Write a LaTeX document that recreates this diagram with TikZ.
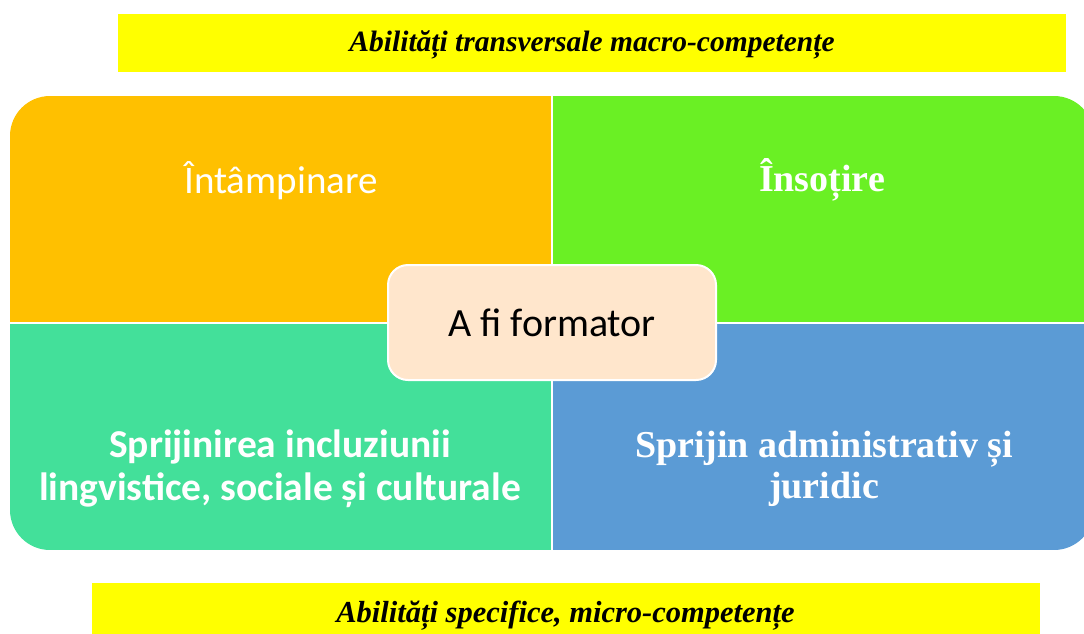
\documentclass[tikz,border=0pt]{standalone}
\usepackage{fontspec}
\setmainfont{Liberation Serif}
\newfontfamily\calibri{Carlito}
\definecolor{bannerfill}{RGB}{255,255,0}
\definecolor{welcomefill}{RGB}{255,192,0}
\definecolor{guidefill}{RGB}{106,240,36}
\definecolor{inclufill}{RGB}{67,224,154}
\definecolor{adminfill}{RGB}{91,155,213}
\definecolor{corefill}{RGB}{255,230,204}

\begin{document}
\begin{tikzpicture}[x=1pt,y=-1pt,
  banner/.style={fill=bannerfill, minimum width=948pt, minimum height=58pt,
    inner sep=0pt, text depth=4pt, font=\fontsize{#1}{34}\selectfont\bfseries\itshape},
  quadsans/.style 2 args={text=white, align=center, font=\calibri\fontsize{#1}{#2}\selectfont},
  quadbold/.style 2 args={text=white, align=center, font=\calibri\fontsize{#1}{#2}\selectfont\bfseries},
  quadserif/.style 2 args={text=white, align=center, font=\fontsize{#1}{#2}\selectfont\bfseries},
  corebox/.style={draw=white, line width=2pt, fill=corefill, rounded corners=20pt,
    minimum width=328pt, minimum height=115pt, font=\calibri\fontsize{40}{46}\selectfont}]
\useasboundingbox (0,0) rectangle (1084,633);
\clip (0,0) rectangle (1084,633);

\node[banner=29.5, text height=20pt] (macro) at (592,43)
  {Abilități transversale macro-competențe};
\node[banner=30.5, text height=24pt] (micro) at (565.5,612)
  {Abilități specifice, micro-competențe};

\begin{scope}
\clip[rounded corners=40pt] (10,96) rectangle (1094,550);
\fill[welcomefill] (10,96) rectangle (552,323);
\fill[guidefill] (552,96) rectangle (1094,323);
\fill[inclufill] (10,323) rectangle (552,550);
\fill[adminfill] (552,323) rectangle (1094,550);
\end{scope}
\draw[white, line width=2pt] (552,96) -- (552,550);
\draw[white, line width=2pt] (10,323) -- (1094,323);

\node[quadsans={39}{46}, anchor=base] (welcome) at (281,193) {Întâmpinare};
\node[quadserif={38}{44}, anchor=base] (guide) at (822,191) {Însoțire};
\node[quadbold={39.5}{43}] (inclu) at (280,469)
  {Sprijinirea incluziunii\\lingvistice, sociale și culturale};
\node[quadserif={38}{41}] (admin) at (824,469)
  {Sprijin administrativ și\\juridic};

\node[corebox] (core) at (552,322.5) {A fi formator};
\end{tikzpicture}
\end{document}
